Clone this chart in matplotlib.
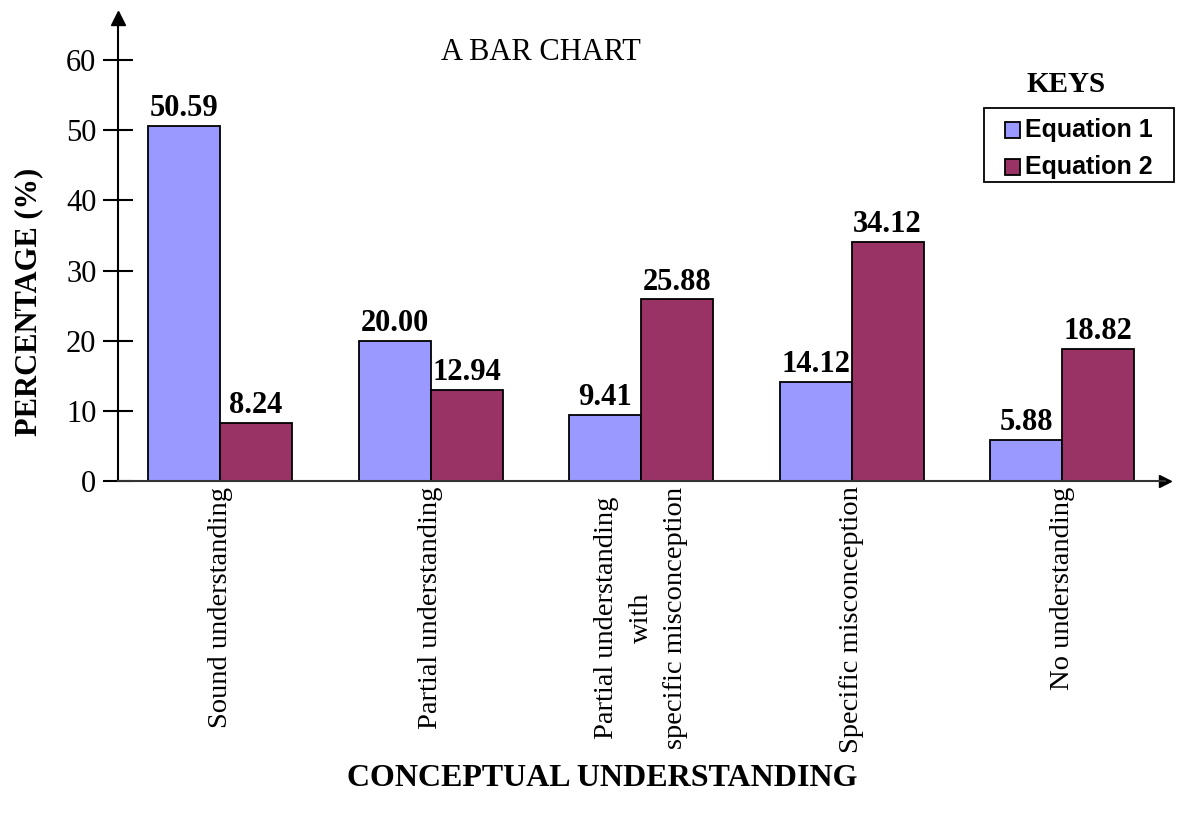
import matplotlib
matplotlib.use("Agg")
import matplotlib.pyplot as plt
import numpy as np
from matplotlib.patches import Rectangle

plt.rcParams['font.family'] = ['Liberation Serif', 'DejaVu Serif']

categories = ['Sound understanding', 'Partial understanding',
              'Partial understanding\nwith\nspecific misconception',
              'Specific misconception', 'No understanding']
equation1 = [50.59, 20.00, 9.41, 14.12, 5.88]
equation2 = [8.24, 12.94, 25.88, 34.12, 18.82]
series_names = ['Equation 1', 'Equation 2']
yticks = [0, 10, 20, 30, 40, 50, 60]

c1 = '#9999FF'
c2 = '#993366'
W, H = 1191, 816

fig = plt.figure(figsize=(W / 100, H / 100), dpi=100)
ax = fig.add_axes([118 / W, 1 - 481 / H, (1165 - 118) / W, (481 - 18) / H])

x = np.arange(len(categories))
w = 0.342
b1 = ax.bar(x - w / 2, equation1, w, color=c1, edgecolor='black', linewidth=1.3)
b2 = ax.bar(x + w / 2, equation2, w, color=c2, edgecolor='black', linewidth=1.3)

ax.bar_label(b1, labels=[f'{v:.2f}' for v in equation1], padding=2,
             fontsize=22, fontweight='bold')
ax.bar_label(b2, labels=[f'{v:.2f}' for v in equation2], padding=2,
             fontsize=22, fontweight='bold')

ax.set_xlim(-0.485, 4.489)
ax.set_ylim(0, 66)

# open axes with arrow heads
for s in ['top', 'right']:
    ax.spines[s].set_visible(False)
ax.spines['left'].set_linewidth(1.5)
ax.spines['bottom'].set_linewidth(1.5)
ax.spines['bottom'].set_color('#333333')
ax.plot(0, 1, '^k', markersize=10, transform=ax.transAxes, clip_on=False)
ax.plot(1, 0, '>k', markersize=8, transform=ax.transAxes, clip_on=False)

ax.set_yticks(yticks)
ax.tick_params(axis='y', direction='inout', length=21, width=1.5, labelsize=22, pad=5)
ax.set_xticks(x)
ax.set_xticklabels(categories, rotation=90, fontsize=20.5, va='top', ha='center',
                   multialignment='center', linespacing=1.5)
ax.tick_params(axis='x', length=0, pad=4)

fig.text(541 / W, 1 - 52 / H, 'A BAR CHART', fontsize=22, ha='center', va='center')
fig.text(29 / W, 1 - 302 / H, 'PERCENTAGE (%)', fontsize=22, fontweight='bold',
         rotation=90, ha='center', va='center')
fig.text(602 / W, 1 - 778 / H, 'CONCEPTUAL UNDERSTANDING', fontsize=23,
         fontweight='bold', ha='center', va='center')
fig.text(1066 / W, 1 - 85 / H, 'KEYS', fontsize=21, fontweight='bold',
         ha='center', va='center')

# key box
fig.add_artist(Rectangle((984 / W, 1 - 182 / H), 190 / W, 74 / H, transform=fig.transFigure,
                         facecolor='white', edgecolor='black', linewidth=1.3))
for name, col, yc in zip(series_names, [c1, c2], [130, 167]):
    fig.add_artist(Rectangle((1005 / W, 1 - (yc + 7.5) / H), 15 / W, 15 / H,
                             transform=fig.transFigure, facecolor=col,
                             edgecolor='black', linewidth=1.3))
    fig.text(1025 / W, 1 - yc / H, name, fontsize=18, fontweight='bold',
             family='Liberation Sans', ha='left', va='center')

fig.savefig('out.png', dpi=100)
